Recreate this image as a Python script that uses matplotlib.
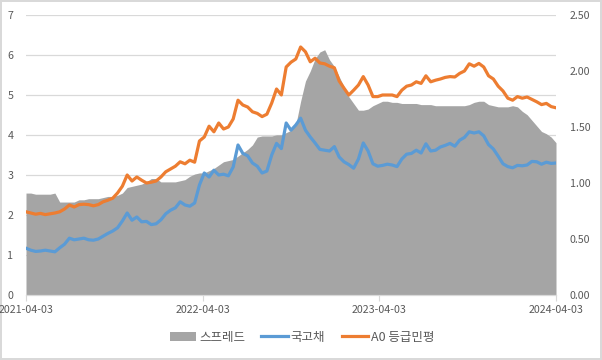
import matplotlib
matplotlib.use("Agg")
import matplotlib.pyplot as plt
from matplotlib.patches import Patch
from matplotlib.lines import Line2D
import pandas as pd

plt.rcParams['font.family'] = ['Noto Sans CJK KR', 'DejaVu Sans']

start, end = "2021-04-03", "2024-04-03"
x_tick_labels = ["2021-04-03", "2022-04-03", "2023-04-03", "2024-04-03"]
series_names = ["스프레드", "국고채", "A0 등급민평"]

a0_rate = [
    2.08, 2.05, 2.02, 2.04, 2.01, 2.03, 2.05, 2.08, 2.15, 2.25,
    2.20, 2.26, 2.27, 2.26, 2.23, 2.26, 2.33, 2.37, 2.42, 2.55,
    2.72, 3.00, 2.85, 2.95, 2.87, 2.80, 2.82, 2.85, 2.95, 3.08,
    3.15, 3.22, 3.33, 3.28, 3.37, 3.32, 3.85, 3.95, 4.22, 4.08,
    4.30, 4.15, 4.20, 4.40, 4.87, 4.75, 4.70, 4.58, 4.54, 4.46,
    4.52, 4.80, 5.15, 5.00, 5.70, 5.82, 5.90, 6.20, 6.08, 5.83,
    5.92, 5.80, 5.78, 5.72, 5.68, 5.35, 5.17, 5.00, 5.12, 5.25,
    5.46, 5.25, 4.96, 4.96, 5.00, 5.00, 5.00, 4.96, 5.12, 5.22,
    5.25, 5.33, 5.29, 5.48, 5.33, 5.37, 5.40, 5.44, 5.46, 5.45,
    5.54, 5.60, 5.78, 5.72, 5.79, 5.70, 5.48, 5.40, 5.22, 5.10,
    4.92, 4.87, 4.96, 4.92, 4.95, 4.89, 4.83, 4.76, 4.79, 4.71, 4.68,
]

ktb_rate = [
    1.17, 1.12, 1.09, 1.10, 1.12, 1.10, 1.08, 1.18, 1.27, 1.42,
    1.38, 1.40, 1.42, 1.38, 1.37, 1.40, 1.47, 1.54, 1.60, 1.68,
    1.85, 2.05, 1.87, 1.95, 1.83, 1.84, 1.76, 1.78, 1.88, 2.03,
    2.12, 2.18, 2.33, 2.25, 2.22, 2.30, 2.75, 3.05, 2.95, 3.12,
    3.00, 3.02, 2.98, 3.20, 3.75, 3.54, 3.48, 3.30, 3.22, 3.05,
    3.10, 3.50, 3.79, 3.66, 4.30, 4.12, 4.25, 4.42, 4.12, 3.95,
    3.80, 3.64, 3.62, 3.60, 3.71, 3.45, 3.33, 3.26, 3.17, 3.40,
    3.80, 3.60, 3.28, 3.22, 3.24, 3.27, 3.25, 3.21, 3.40, 3.52,
    3.54, 3.62, 3.55, 3.78, 3.60, 3.62, 3.70, 3.74, 3.79, 3.72,
    3.87, 3.94, 4.08, 4.05, 4.08, 3.98, 3.76, 3.65, 3.47, 3.28,
    3.21, 3.18, 3.24, 3.23, 3.25, 3.34, 3.33, 3.27, 3.32, 3.29, 3.30,
]

spread = [
    0.91, 0.91, 0.90, 0.90, 0.90, 0.90, 0.91, 0.83, 0.83, 0.83,
    0.83, 0.85, 0.85, 0.86, 0.86, 0.86, 0.87, 0.88, 0.88, 0.89,
    0.91, 0.96, 0.97, 0.98, 0.99, 1.01, 1.04, 1.04, 1.01, 1.01,
    1.01, 1.01, 1.02, 1.03, 1.06, 1.08, 1.09, 1.09, 1.11, 1.13,
    1.16, 1.19, 1.20, 1.21, 1.24, 1.27, 1.30, 1.34, 1.41, 1.42,
    1.42, 1.42, 1.43, 1.43, 1.45, 1.47, 1.52, 1.73, 1.91, 2.00,
    2.11, 2.17, 2.19, 2.10, 2.04, 1.95, 1.86, 1.77, 1.71, 1.65,
    1.65, 1.66, 1.69, 1.71, 1.73, 1.73, 1.72, 1.72, 1.71, 1.71,
    1.71, 1.71, 1.70, 1.70, 1.70, 1.69, 1.69, 1.69, 1.69, 1.69,
    1.69, 1.69, 1.70, 1.72, 1.73, 1.73, 1.70, 1.69, 1.68, 1.68,
    1.68, 1.69, 1.68, 1.64, 1.61, 1.56, 1.51, 1.46, 1.44, 1.41, 1.36,
]

left_ticks = [0, 1, 2, 3, 4, 5, 6, 7]
right_ticks = [0.0, 0.5, 1.0, 1.5, 2.0, 2.5]

c_gray = "#A5A5A5"
c_blue = "#5B9BD5"
c_orange = "#ED7D31"
c_text = "#595959"
c_grid = "#D9D9D9"

d_spread = pd.date_range(start, end, periods=len(spread))
d_ktb = pd.date_range(start, end, periods=len(ktb_rate))
d_a0 = pd.date_range(start, end, periods=len(a0_rate))

fig = plt.figure(figsize=(6.02, 3.60), dpi=100)
fig.patch.set_facecolor("white")
fig.patch.set_edgecolor(c_grid)
fig.patch.set_linewidth(1.5)

ax = fig.add_axes([26 / 602, 1 - 295 / 360, 530 / 602, 280 / 360])
ax2 = ax.twinx()

# area (right axis scale) on bottom axes
ax.fill_between(d_spread, 0, spread, color=c_gray, linewidth=0, zorder=2)
ax.set_ylim(0, 2.5)
ax.set_xlim(pd.Timestamp(start), pd.Timestamp(end))
ax.yaxis.tick_right()
ax.set_yticks(right_ticks)
ax.set_yticklabels([f"{v:.2f}" for v in right_ticks])
ax.tick_params(axis="y", length=0, pad=10, labelsize=7.7, labelcolor=c_text)

# horizontal gridlines matching left ticks, drawn behind the area
for t in left_ticks[1:]:
    ax.axhline(t * 2.5 / 7, color=c_grid, linewidth=0.9, zorder=0.5)

# lines on the left scale
ax2.plot(d_ktb, ktb_rate, color=c_blue, linewidth=2.3, solid_joinstyle="round")
ax2.plot(d_a0, a0_rate, color=c_orange, linewidth=2.3, solid_joinstyle="round")
ax2.set_ylim(0, 7)
ax2.yaxis.tick_left()
ax2.set_yticks(left_ticks)
ax2.set_yticklabels([str(t) for t in left_ticks])
ax2.tick_params(axis="y", length=0, pad=9, labelsize=7.7, labelcolor=c_text)

xt = [pd.Timestamp(s) for s in x_tick_labels]
ax.set_xticks(xt)
ax.set_xticklabels(x_tick_labels)
ax.tick_params(axis="x", length=4, width=0.8, color=c_grid, pad=3,
               labelsize=7.7, labelcolor=c_text)
ax2.tick_params(axis="x", length=0)

for a in (ax, ax2):
    for side in ("left", "right", "top"):
        a.spines[side].set_visible(False)
    a.spines["bottom"].set_color(c_grid)
    a.spines["bottom"].set_linewidth(0.9)
ax2.spines["bottom"].set_visible(False)

handles = [
    Patch(facecolor=c_gray, edgecolor="none", label=series_names[0]),
    Line2D([0], [0], color=c_blue, linewidth=2.3, label=series_names[1]),
    Line2D([0], [0], color=c_orange, linewidth=2.3, label=series_names[2]),
]
leg = fig.legend(handles=handles, loc="center", bbox_to_anchor=(302 / 602, 1 - 337 / 360),
                 ncol=3, frameon=False, fontsize=9, handlelength=2.1,
                 handletextpad=0.25, columnspacing=1.3)
for t in leg.get_texts():
    t.set_color(c_text)

fig.savefig("out.png", dpi=100, facecolor=fig.get_facecolor(), edgecolor=fig.get_edgecolor())
